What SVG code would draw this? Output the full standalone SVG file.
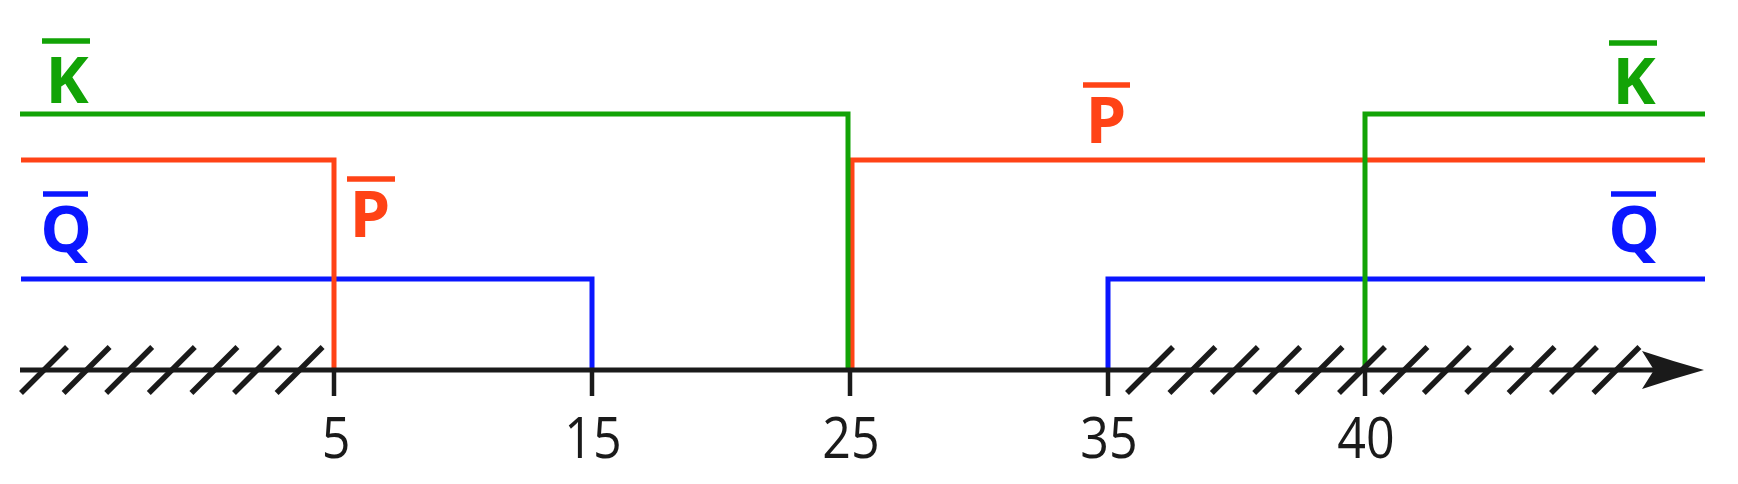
<svg xmlns="http://www.w3.org/2000/svg" width="1738" height="484" viewBox="0 0 1738 484">
  <style>
    .sig { fill: none; stroke-width: 5; stroke-linejoin: miter; stroke-linecap: butt; }
    .g { stroke: #12a306; }
    .r { stroke: #ff4316; }
    .b { stroke: #0a16ff; }
    .bar { stroke-width: 5.5; stroke-linecap: butt; }
    .lbl { font-family: "Open Sans", "Noto Sans", sans-serif; font-weight: bold; font-size: 65px; text-anchor: middle; }
    .num { font-family: "Open Sans", "Noto Sans", sans-serif; font-size: 57px; fill: #1a1a1a; text-anchor: middle; }
    .ax { stroke: #1a1a1a; fill: none; stroke-linecap: butt; }
  </style>
  <defs>
    <line id="hatch" x1="0" y1="393" x2="46" y2="347" class="ax" stroke-width="5.5"/>
  </defs>

  <g id="connectors">
    <g id="signal-Q">
      <path class="sig b" d="M21,279 H592 V370"/>
      <path class="sig b" d="M1108,370 V279 H1705"/>
    </g>
    <g id="signal-P">
      <path class="sig r" d="M21,160 H334 V370"/>
      <path class="sig r" d="M852,370 V160 H1705"/>
    </g>
    <g id="signal-K">
      <path class="sig g" d="M20,114 H848 V370"/>
      <path class="sig g" d="M1365,370 V114 H1705"/>
    </g>
  </g>

  <g id="axis">
    <line class="ax" x1="20" y1="370" x2="1660" y2="370" stroke-width="5"/>
    <path d="M1704,370 Q1672,361 1642,351 L1654,370 L1642,389 Q1672,379 1704,370 Z" fill="#1a1a1a"/>
    <g id="ticks" class="ax" stroke-width="4.5">
      <line x1="334" y1="370" x2="334" y2="396"/>
      <line x1="592" y1="370" x2="592" y2="396"/>
      <line x1="850" y1="370" x2="850" y2="396"/>
      <line x1="1108" y1="370" x2="1108" y2="396"/>
      <line x1="1365" y1="370" x2="1365" y2="396"/>
    </g>
    <g id="hatch-left">
      <use href="#hatch" x="21"/>
      <use href="#hatch" x="63.6"/>
      <use href="#hatch" x="106.2"/>
      <use href="#hatch" x="148.8"/>
      <use href="#hatch" x="191.4"/>
      <use href="#hatch" x="234"/>
      <use href="#hatch" x="276.6"/>
    </g>
    <g id="hatch-right">
      <use href="#hatch" x="1127"/>
      <use href="#hatch" x="1169.4"/>
      <use href="#hatch" x="1211.8"/>
      <use href="#hatch" x="1254.2"/>
      <use href="#hatch" x="1296.6"/>
      <use href="#hatch" x="1339"/>
      <use href="#hatch" x="1381.4"/>
      <use href="#hatch" x="1423.8"/>
      <use href="#hatch" x="1466.2"/>
      <use href="#hatch" x="1508.6"/>
      <use href="#hatch" x="1551"/>
      <use href="#hatch" x="1593.4"/>
    </g>
    <g id="tick-labels">
      <text class="num" transform="translate(336,458) scale(0.88,1)">5</text>
      <text class="num" transform="translate(593,458) scale(0.88,1)">15</text>
      <text class="num" transform="translate(851,458) scale(0.88,1)">25</text>
      <text class="num" transform="translate(1109,458) scale(0.88,1)">35</text>
      <text class="num" transform="translate(1366,458) scale(0.88,1)">40</text>
    </g>
  </g>

  <g id="label-K-left">
    <line class="bar g" x1="42" y1="41" x2="90" y2="41"/>
    <text class="lbl" fill="#12a306" x="67" y="103">K</text>
  </g>
  <g id="label-Q-left">
    <line class="bar b" x1="43" y1="194" x2="88" y2="194"/>
    <text class="lbl" fill="#0a16ff" x="66" y="252">Q</text>
  </g>
  <g id="label-P-left">
    <line class="bar r" x1="347" y1="179" x2="395" y2="179"/>
    <text class="lbl" fill="#ff4316" x="370" y="237">P</text>
  </g>
  <g id="label-P-mid">
    <line class="bar r" x1="1083" y1="85" x2="1130" y2="85"/>
    <text class="lbl" fill="#ff4316" x="1106" y="143">P</text>
  </g>
  <g id="label-K-right">
    <line class="bar g" x1="1609" y1="43" x2="1657" y2="43"/>
    <text class="lbl" fill="#12a306" x="1634" y="104">K</text>
  </g>
  <g id="label-Q-right">
    <line class="bar b" x1="1611" y1="194" x2="1656" y2="194"/>
    <text class="lbl" fill="#0a16ff" x="1634" y="252">Q</text>
  </g>
</svg>
